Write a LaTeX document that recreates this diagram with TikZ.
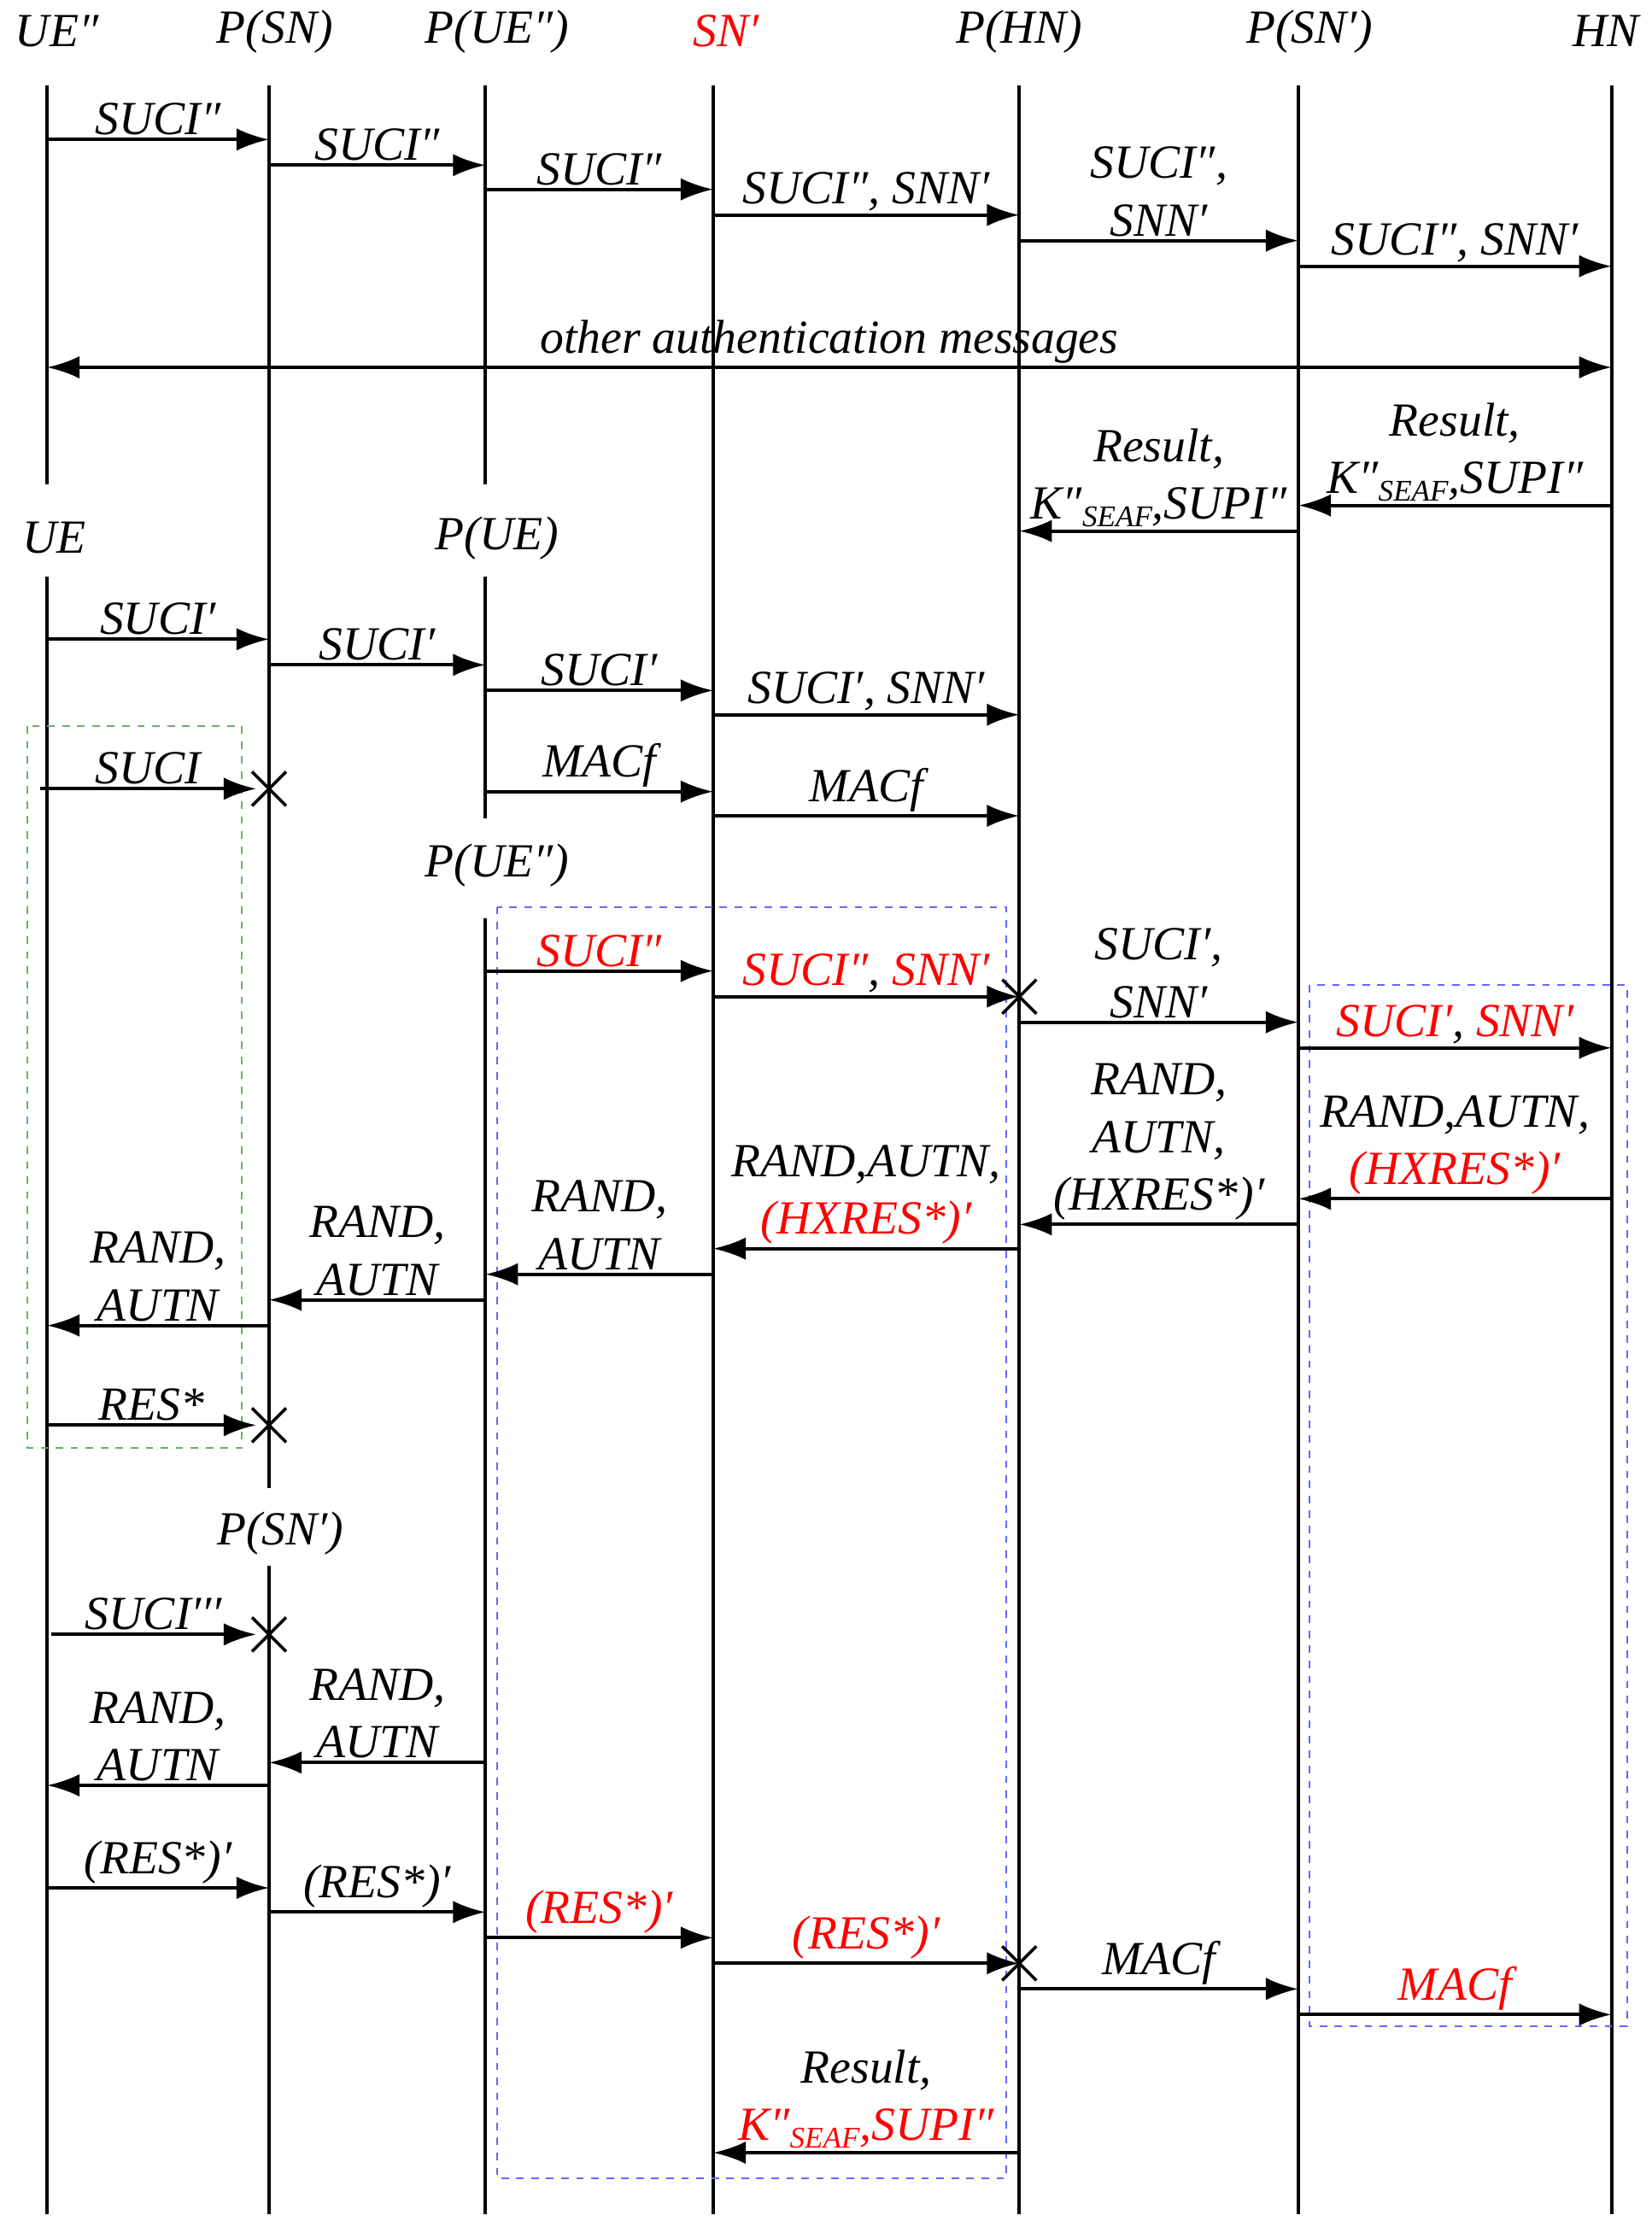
\documentclass[tikz,border=0pt]{standalone}
\usepackage{fontspec}
\setmainfont{Liberation Serif}
\usetikzlibrary{arrows.meta}
\newcommand{\sub}[1]{\raisebox{-0.35ex}{\fontsize{12}{12}\selectfont #1}}
\newcommand{\rd}[1]{\textcolor{red}{#1}}
\begin{document}
\begin{tikzpicture}[x=0.02cm,y=-0.02cm,
  life/.style={line width=1.4pt},
  msg/.style={line width=1.4pt,-{Latex[length=13pt,width=9pt]}},
  bmsg/.style={line width=1.4pt,{Latex[length=13pt,width=9pt]}-{Latex[length=13pt,width=9pt]}},
  lbl/.style={font=\fontsize{19}{23}\selectfont\itshape,align=center,inner sep=1pt},
  hdr/.style={font=\fontsize{19}{23}\selectfont\itshape,inner sep=0pt},
  xm/.style={line width=1.2pt},
  gbox/.style={dashed,draw=green!50!black!60,line width=0.6pt},
  bbox/.style={dashed,draw=blue!60,line width=0.6pt}]
\useasboundingbox (0,0) rectangle (1160,1560);
\newcommand{\msgl}[4]{\draw[msg] (#2,#1) -- node[lbl,above]{#4} (#3,#1);}
\newcommand{\xmark}[2]{\draw[xm] (#1-12,#2-12) -- (#1+12,#2+12) (#1-12,#2+12) -- (#1+12,#2-12);}
% headers
\node[hdr] (h1) at (40,22) {UE″};
\node[hdr] (h2) at (193,22) {P(SN)};
\node[hdr] (h3) at (349,22) {P(UE″)};
\node[hdr,text=red] (h4) at (510,22) {SN′};
\node[hdr] (h5) at (716,22) {P(HN)};
\node[hdr] (h6) at (920,22) {P(SN′)};
\node[hdr] (h7) at (1128,22) {HN};
\node[hdr] (h8) at (38,378) {UE};
\node[hdr] (h9) at (349,378) {P(UE)};
\node[hdr] (h10) at (349,608) {P(UE″)};
\node[hdr] (h11) at (197,1077) {P(SN′)};
% lifelines
\draw[life] (33,60) -- (33,340);
\draw[life] (189,60) -- (189,1045);
\draw[life] (341,60) -- (341,340);
\draw[life] (501,60) -- (501,1555);
\draw[life] (716,60) -- (716,1555);
\draw[life] (912,60) -- (912,1555);
\draw[life] (1132,60) -- (1132,1555);
\draw[life] (33,405) -- (33,1555);
\draw[life] (341,405) -- (341,575);
\draw[life] (341,645) -- (341,1555);
\draw[life] (189,1100) -- (189,1555);
% boxes
\draw[gbox] (19,510) rectangle (170,1017);
\draw[bbox] (349,637) rectangle (707,1530);
\draw[bbox] (920,692) rectangle (1143,1423);
% messages
\msgl{98}{33}{189}{SUCI″}
\msgl{116}{189}{341}{SUCI″}
\msgl{133}{341}{501}{SUCI″}
\msgl{151}{501}{716}{SUCI″, SNN′}
\msgl{169}{716}{912}{SUCI″,\\SNN′}
\msgl{187}{912}{1132}{SUCI″, SNN′}
\draw[bmsg] (33,258) -- node[lbl,above]{other authentication messages} (1132,258);
\msgl{355}{1132}{912}{Result,\\K″\sub{SEAF},SUPI″}
\msgl{373}{912}{716}{Result,\\K″\sub{SEAF},SUPI″}
\msgl{449}{33}{189}{SUCI′}
\msgl{467}{189}{341}{SUCI′}
\msgl{485}{341}{501}{SUCI′}
\msgl{502}{501}{716}{SUCI′, SNN′}
\msgl{554}{28}{180}{SUCI}
\xmark{189}{554}
\msgl{556}{341}{501}{MACf}
\msgl{573}{501}{716}{MACf}
\msgl{682}{341}{501}{\rd{SUCI″}}
\msgl{700}{501}{716}{\rd{SUCI″}, \rd{SNN′}}
\xmark{716}{700}
\msgl{718}{716}{912}{SUCI′,\\SNN′}
\msgl{736}{912}{1132}{\rd{SUCI′}, \rd{SNN′}}
\msgl{842}{1132}{912}{RAND,AUTN,\\\rd{(HXRES*)′}}
\msgl{860}{912}{716}{RAND,\\AUTN,\\(HXRES*)′}
\msgl{877}{716}{501}{RAND,AUTN,\\\rd{(HXRES*)′}}
\msgl{895}{501}{341}{RAND,\\AUTN}
\msgl{913}{341}{189}{RAND,\\AUTN}
\msgl{931}{189}{33}{RAND,\\AUTN}
\msgl{1001}{33}{180}{RES*}
\xmark{189}{1001}
\msgl{1148}{36}{180}{SUCI′′′}
\xmark{189}{1148}
\msgl{1238}{341}{189}{RAND,\\AUTN}
\msgl{1254}{189}{33}{RAND,\\AUTN}
\msgl{1326}{33}{189}{(RES*)′}
\msgl{1343}{189}{341}{(RES*)′}
\msgl{1361}{341}{501}{\rd{(RES*)′}}
\msgl{1379}{501}{716}{\rd{(RES*)′}}
\xmark{716}{1379}
\msgl{1397}{716}{912}{MACf}
\msgl{1415}{912}{1132}{\rd{MACf}}
\msgl{1512}{716}{501}{Result,\\\rd{K″\sub{SEAF},SUPI″}}
\end{tikzpicture}
\end{document}
